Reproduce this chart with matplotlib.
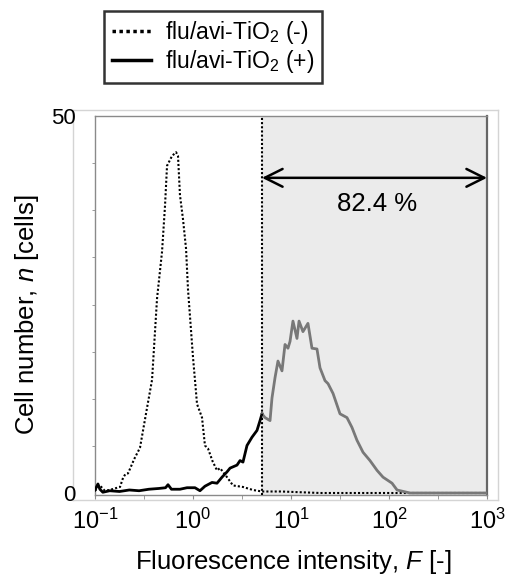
import numpy as np
import matplotlib
matplotlib.use("Agg")
import matplotlib.pyplot as plt

plt.rcParams["font.family"] = ["Liberation Sans", "DejaVu Sans"]
plt.rcParams["mathtext.fontset"] = "custom"
plt.rcParams["mathtext.rm"] = "Liberation Sans"
plt.rcParams["mathtext.it"] = "Liberation Sans:italic"

# ---------------------------------------------------------------------------
# Data (log10 of fluorescence intensity, cell counts)
# ---------------------------------------------------------------------------
neg_logf = [-1.0, -0.95, -0.9, -0.85, -0.8, -0.745, -0.714, -0.69, -0.663,
            -0.6, -0.541, -0.469, -0.418, -0.367, -0.316, -0.286, -0.265,
            -0.214, -0.173, -0.153, -0.133, -0.102, -0.071, -0.051, 0.0,
            0.02, 0.041, 0.092, 0.122, 0.153, 0.2, 0.245, 0.276, 0.347,
            0.408, 0.51, 0.612, 0.704, 0.9, 1.1, 1.3, 3.0]
neg_count = [0.3, 1.0, 0.3, 0.4, 0.6, 0.8, 2.0, 2.5, 2.6,
             4.5, 6.0, 11.3, 15.0, 25.8, 32.0, 38.0, 43.4,
             44.7, 45.2, 44.7, 39.5, 36.3, 32.4, 27.0, 18.0,
             15.0, 11.8, 10.0, 6.3, 5.9, 4.2, 3.0, 3.3, 2.1,
             1.0, 0.8, 0.4, 0.2, 0.2, 0.1, 0.0, 0.0]

pos_logf = [-1.0, -0.97, -0.95, -0.92, -0.85, -0.75, -0.65, -0.55, -0.45,
            -0.35, -0.28, -0.255, -0.22, -0.133, -0.061, 0.02, 0.071, 0.122,
            0.194, 0.245, 0.296, 0.347, 0.378, 0.449, 0.48, 0.51, 0.551,
            0.602, 0.653, 0.684, 0.704, 0.735, 0.786, 0.806, 0.837, 0.867,
            0.908, 0.939, 0.969, 0.99, 1.02, 1.061, 1.082, 1.122, 1.173,
            1.214, 1.265, 1.296, 1.347, 1.378, 1.429, 1.5, 1.571, 1.622,
            1.673, 1.735, 1.806, 1.878, 1.939, 2.031, 2.082, 2.214, 3.0]
pos_count = [0.4, 1.2, 0.5, 0.1, 0.3, 0.2, 0.4, 0.3, 0.5,
             0.6, 0.7, 1.1, 0.5, 0.5, 0.7, 0.7, 0.3, 0.9,
             1.4, 1.3, 2.1, 2.8, 3.3, 3.7, 4.3, 4.1, 6.3,
             7.4, 8.3, 9.6, 10.5, 10.0, 9.6, 12.6, 15.3, 17.5,
             16.2, 19.7, 19.2, 20.1, 22.8, 20.5, 22.8, 21.4, 22.5,
             19.2, 19.1, 16.6, 14.9, 14.5, 13.2, 10.5, 10.0, 8.7,
             7.0, 5.4, 4.3, 3.0, 2.1, 1.3, 0.4, 0.0, 0.0]

gate_logf = 0.704
gate_pct = "82.4 %"
legend_labels = ["flu/avi-TiO$_2$ (-)", "flu/avi-TiO$_2$ (+)"]
xtick_exps = [-1, 0, 1, 2, 3]

W, H = 509, 578
fig = plt.figure(figsize=(W / 100, H / 100), dpi=100)


def rect(x0, y0, x1, y1):
    # pixel box (top-left origin) -> figure fraction
    return [x0 / W, 1 - y1 / H, (x1 - x0) / W, (y1 - y0) / H]


# outer light frame
frame = fig.add_axes(rect(73, 110, 498, 500), zorder=0)
frame.set_xticks([])
frame.set_yticks([])
for s in frame.spines.values():
    s.set_color("#d4d4d4")
    s.set_linewidth(1.0)

ax = fig.add_axes(rect(95, 116, 487, 495), zorder=1)
ax.patch.set_alpha(0)
ax.set_xscale("log")
ax.set_xlim(10 ** -1, 10 ** 3)
ax.set_ylim(-0.265, 50)

gate = 10 ** gate_logf
ax.axvspan(gate, 10 ** 3, color="#ebebeb", zorder=0)

neg_x = 10 ** np.array(neg_logf)
pos_x = 10 ** np.array(pos_logf)
pos_y = np.array(pos_count)
ax.plot(neg_x, neg_count, color="black", ls=(0, (1, 1)), lw=1.5, zorder=3)
left = np.array(pos_logf) <= gate_logf
right = np.array(pos_logf) >= gate_logf
ax.plot(pos_x[left], pos_y[left], color="black", lw=2.0, zorder=4)
ax.plot(pos_x[right], pos_y[right], color="#787878", lw=2.0, zorder=4)

ax.axvline(gate, color="black", ls=(0, (1, 1)), lw=1.5, zorder=5)

ax.annotate("", xy=(gate, 41.8), xytext=(10 ** 3, 41.8),
            arrowprops=dict(arrowstyle="<->", color="black", lw=1.8,
                            mutation_scale=32, shrinkA=0, shrinkB=0),
            zorder=6)
ax.text(75.5, 38.3, gate_pct, ha="center", va="center", fontsize=18.5)

# spines
for name in ["left", "bottom", "top"]:
    ax.spines[name].set_color("#8a8a8a")
    ax.spines[name].set_linewidth(1.0)
ax.spines["right"].set_color("#666666")
ax.spines["right"].set_linewidth(1.6)

ax.set_xticks([10.0 ** e for e in xtick_exps])
ax.set_xticklabels(["$10^{%d}$" % e for e in xtick_exps], fontsize=17)
ax.set_xticks([10.0 ** (e + 0.5) for e in xtick_exps[:-1]], minor=True)
ax.xaxis.set_minor_formatter(plt.NullFormatter())
ax.tick_params(axis="x", which="both", direction="out", length=3,
               color="#8a8a8a", pad=7)

ax.set_yticks([0, 50])
ax.set_yticklabels(["0", "50"], fontsize=16)
ax.set_yticks(np.linspace(0, 50, 9)[1:-1], minor=True)
ax.tick_params(axis="y", which="major", length=0, pad=14)
ax.tick_params(axis="y", which="minor", direction="out", length=2,
               color="#8a8a8a")

fig.text(293 / W, 1 - 562 / H, "Fluorescence intensity, $\\mathit{F}$ [-]",
         ha="center", va="center", fontsize=18.5)
fig.text(27 / W, 1 - 315 / H, "Cell number, $\\mathit{n}$ [cells]",
         ha="center", va="center", rotation=90, fontsize=18.5)

handles = [plt.Line2D([], [], color="black", ls=(0, (1, 1)), lw=2.5),
           plt.Line2D([], [], color="black", lw=2.5)]
leg = fig.legend(handles, legend_labels, loc="upper left",
                 bbox_to_anchor=(104 / W, 1 - 11 / H), fontsize=16.5,
                 frameon=True, fancybox=False, handlelength=1.7,
                 handletextpad=0.6, borderpad=0.35, labelspacing=0.1,
                 borderaxespad=0)
leg.get_frame().set_edgecolor("black")
leg.get_frame().set_linewidth(1.8)

fig.savefig("out.png", dpi=100)
